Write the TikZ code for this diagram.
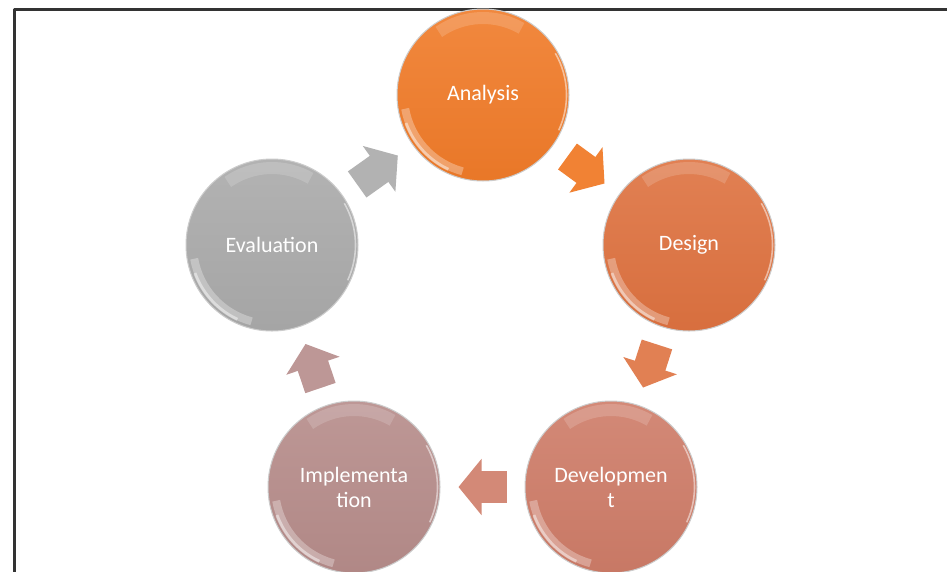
\documentclass[tikz,border=0pt]{standalone}
\usepackage{fontspec}
\setmainfont{Carlito}
\usetikzlibrary{arrows.meta}
\definecolor{anaorange}{RGB}{240,123,41}
\definecolor{desorange}{RGB}{222,114,64}
\definecolor{devsalmon}{RGB}{206,124,104}
\definecolor{improse}{RGB}{182,140,138}
\definecolor{evagray}{RGB}{170,170,170}

\begin{document}
\begin{tikzpicture}[x=1pt,y=-1pt,line join=round,
  phase/.style={circle,minimum size=172pt,inner sep=0pt,draw=black!20,line width=1pt,top color=#1!90!white,bottom color=#1!97!black,text=white,align=center,font=\fontsize{22}{25}\selectfont},
  flow/.style={#1,line width=32pt,shorten <=18pt,shorten >=18pt,-{Triangle[length=23pt,width=55pt]}},
  gloss/.style={white,opacity=#1}]
\useasboundingbox (0,0) rectangle (947,571);
\fill[white] (0,0) rectangle (947,571);
\draw[black!80,line width=3pt] (14.5,575) -- (14.5,9.5) -- (950,9.5);
\node[phase=anaorange] (ana) at (483,95) {Analysis};
\node[phase=desorange] (des) at (689,245) {Design};
\node[phase=devsalmon] (dev) at (611,487) {Developmen\\t};
\node[phase=improse] (imp) at (354,487) {Implementa\\tion};
\node[phase=evagray] (eva) at (272,245) {Evaluation};
% shine on each ball
\foreach \n in {ana,des,dev,imp,eva} {
  \begin{scope}[shift={(\n.center)},y=1pt]
    \draw[gloss=0.16,line width=12pt] (60:77) arc[start angle=60,end angle=125,radius=77];
    \draw[gloss=0.3,line width=8pt] (190:79) arc[start angle=190,end angle=255,radius=79];
    \draw[gloss=0.45,line width=3pt] (200:82) arc[start angle=200,end angle=245,radius=82];
    \draw[gloss=0.5,line width=1.6pt] (-25:83.5) arc[start angle=-25,end angle=30,radius=83.5];
  \end{scope}
}
\draw[flow=anaorange!95!white] (ana) -- (des);
\draw[flow=desorange!90!white] (des) -- (dev);
\draw[flow=devsalmon!90!white] (dev) -- (imp);
\draw[flow=improse!90!white] (imp) -- (eva);
\draw[flow=evagray!90!white] (eva) -- (ana);
\end{tikzpicture}
\end{document}
